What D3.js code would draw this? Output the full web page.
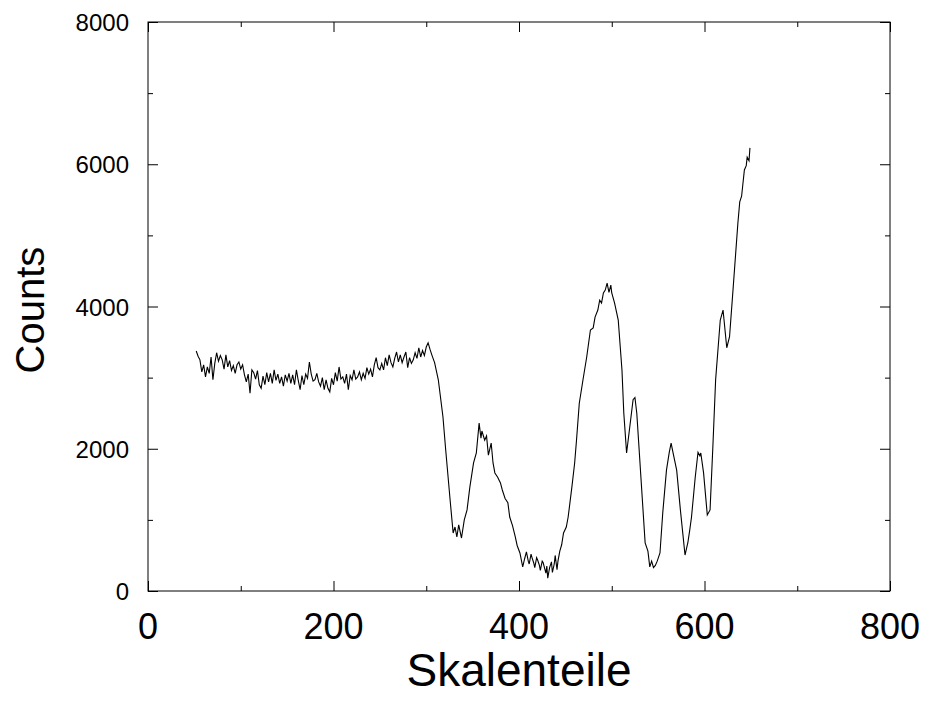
<!DOCTYPE html>
<html>
<head>
<meta charset="utf-8">
<script src="https://cdn.jsdelivr.net/npm/d3@7"></script>
<style>
  body { margin: 0; background: #fff; }
  text { font-family: "Liberation Sans", Arial, sans-serif; fill: #000; }
</style>
</head>
<body>
<div id="chart"></div>
<script>
// channel (Skalenteile) and counts
const channels = [
  52, 54, 56, 58, 60, 62, 64, 66, 68, 70, 72, 74, 76, 78, 80, 82, 84, 86, 88, 90,
  92, 94, 96, 98, 100, 102, 104, 106, 108, 110, 112, 114, 116, 118, 120, 122, 124, 126, 128, 130,
  132, 134, 136, 138, 140, 142, 144, 146, 148, 150, 152, 154, 156, 158, 160, 162, 164, 166, 168, 170,
  172, 174, 176, 178, 180, 182, 184, 186, 188, 190, 192, 194, 196, 198, 200, 202, 204, 206, 208, 210,
  212, 214, 216, 218, 220, 222, 224, 226, 228, 230, 232, 234, 236, 238, 240, 242, 244, 246, 248, 250,
  252, 254, 256, 258, 260, 262, 264, 266, 268, 270, 272, 274, 276, 278, 280, 282, 284, 286, 288, 290,
  292, 294, 296, 298, 300, 302, 304, 306, 309, 313, 318, 321, 326, 329, 331, 333, 335, 338, 341, 344,
  347, 351, 354, 357, 359, 360, 363, 365, 367, 370, 372, 374, 377, 380, 382, 385, 388, 390, 393, 396,
  398, 401, 404, 406, 408, 410, 411, 413, 414, 416, 417, 419, 420, 422, 423, 425, 426, 428, 429, 430,
  431, 433, 435, 436, 438, 439, 441, 442, 444, 446, 448, 451, 453, 457, 460, 462, 465, 469, 473, 477,
  480, 482, 485, 487, 489, 491, 493, 495, 497, 499, 500, 503, 507, 511, 513, 516, 519, 523, 525, 527,
  530, 536, 539, 541, 543, 545, 547, 549, 552, 555, 559, 562, 564, 566, 570, 574, 579, 581, 582, 584,
  586, 590, 593, 595, 596, 599, 603, 606, 609, 612, 617, 620, 624, 627, 631, 636, 638, 640, 643, 645,
  646, 648, 649
]
const counts = [
  3375, 3300, 3250, 3080, 3180, 3010, 3150, 3060, 3290, 2970, 3200, 3350, 3230, 3310, 3250, 3120, 3320, 3150, 3240, 3100,
  3170, 3060, 3180, 3220, 3120, 3180, 3040, 2940, 3050, 2780, 3110, 3070, 2980, 3100, 2900, 2850, 3020, 2900, 3070, 2940,
  3060, 2920, 3110, 2960, 3050, 2920, 3010, 2880, 3040, 2950, 3060, 2920, 3040, 2900, 3110, 2960, 2830, 3030, 2900, 3050,
  2990, 3220, 3050, 2950, 2970, 3060, 2940, 2880, 3000, 2830, 2970, 2850, 2800, 2990, 2900, 3070, 2950, 3150, 2980, 3010,
  2920, 3050, 2830, 3030, 2970, 3110, 2980, 3010, 3080, 2970, 3060, 2990, 3140, 3050, 3120, 3010, 3180, 3280, 3140, 3110,
  3200, 3110, 3280, 3170, 3320, 3210, 3150, 3270, 3360, 3220, 3320, 3210, 3290, 3360, 3140, 3280, 3200, 3250, 3350, 3270,
  3420, 3290, 3380, 3310, 3430, 3490, 3400, 3320, 3210, 2970, 2450, 1980, 1240, 815, 900, 760, 930, 745, 1000, 1140,
  1460, 1800, 1940, 2360, 2150, 2250, 2120, 2180, 1910, 2080, 1800, 1660, 1600, 1520, 1420, 1300, 1240, 1040, 920, 760,
  640, 535, 340, 450, 550, 420, 380, 520, 470, 390, 330, 470, 440, 360, 290, 420, 400, 300, 250, 350,
  180, 330, 410, 260, 380, 500, 300, 420, 560, 650, 815, 900, 1040, 1460, 1800, 2120, 2640, 2970, 3290, 3670,
  3700, 3850, 3950, 4090, 4050, 4190, 4230, 4330, 4200, 4300, 4190, 4050, 3810, 3110, 2500, 1940, 2260, 2690, 2720, 2500,
  1890, 675, 560, 340, 420, 330, 360, 420, 535, 1100, 1700, 1950, 2080, 1950, 1700, 1140, 506, 620, 675, 850,
  1040, 1600, 1950, 1900, 1940, 1660, 1070, 1140, 2025, 2970, 3810, 3950, 3420, 3575, 4280, 5175, 5470, 5550, 5920, 5980,
  6100, 6050, 6230
]

const xTicks = [0, 200, 400, 600, 800]
const xMinor = [100, 300, 500, 700]
const yTicks = [0, 2000, 4000, 6000, 8000]
const yMinor = [1000, 3000, 5000, 7000]

const width = 929, height = 702
const margin = { top: 22, right: 39, bottom: 111, left: 148 }
const iw = width - margin.left - margin.right
const ih = height - margin.top - margin.bottom

const svg = d3.select("#chart").append("svg")
    .attr("width", width)
    .attr("height", height)

const g = svg.append("g")
    .attr("transform", `translate(${margin.left},${margin.top})`)

const x = d3.scaleLinear().domain([0, 800]).range([0, iw])
const y = d3.scaleLinear().domain([0, 8000]).range([ih, 0])

// frame
g.append("rect")
    .attr("width", iw)
    .attr("height", ih)
    .attr("fill", "none")
    .attr("stroke", "#000")
    .attr("stroke-width", 1)

// inward ticks on all four sides
function tickAxis(axis, vals, len) {
    return axis.tickValues(vals).tickSizeInner(-len).tickSizeOuter(0).tickFormat("")
}

g.append("g").attr("transform", `translate(0,${ih})`).call(tickAxis(d3.axisBottom(x), xTicks, 10))
g.append("g").attr("transform", `translate(0,${ih})`).call(tickAxis(d3.axisBottom(x), xMinor, 5))
g.append("g").call(tickAxis(d3.axisTop(x), xTicks, 10))
g.append("g").call(tickAxis(d3.axisTop(x), xMinor, 5))
g.append("g").call(tickAxis(d3.axisLeft(y), yTicks, 10))
g.append("g").call(tickAxis(d3.axisLeft(y), yMinor, 5))
g.append("g").attr("transform", `translate(${iw},0)`).call(tickAxis(d3.axisRight(y), yTicks, 10))
g.append("g").attr("transform", `translate(${iw},0)`).call(tickAxis(d3.axisRight(y), yMinor, 5))
g.selectAll(".domain").remove()
g.selectAll(".tick line").attr("stroke", "#000")

// tick labels
g.selectAll(".xlab")
    .data(xTicks)
    .enter()
    .append("text")
    .attr("x", d => x(d))
    .attr("y", ih + 48)
    .attr("text-anchor", "middle")
    .attr("font-size", "36px")
    .text(d => d)

g.selectAll(".ylab")
    .data(yTicks)
    .enter()
    .append("text")
    .attr("x", -19)
    .attr("y", d => y(d) + 9)
    .attr("text-anchor", "end")
    .attr("font-size", "24px")
    .text(d => d)

// axis titles
svg.append("text")
    .attr("x", margin.left + iw / 2)
    .attr("y", 686)
    .attr("text-anchor", "middle")
    .attr("font-size", "46px")
    .text("Skalenteile")

svg.append("text")
    .attr("transform", `translate(44,${margin.top + 288}) rotate(-90)`)
    .attr("text-anchor", "middle")
    .attr("font-size", "40px")
    .text("Counts")

// spectrum
const pts = channels.map((c, i) => [c, counts[i]])
g.append("path")
    .datum(pts)
    .attr("fill", "none")
    .attr("stroke", "#000")
    .attr("stroke-width", 1.1)
    .attr("d", d3.line().x(d => x(d[0])).y(d => y(d[1])))
</script>
</body>
</html>
